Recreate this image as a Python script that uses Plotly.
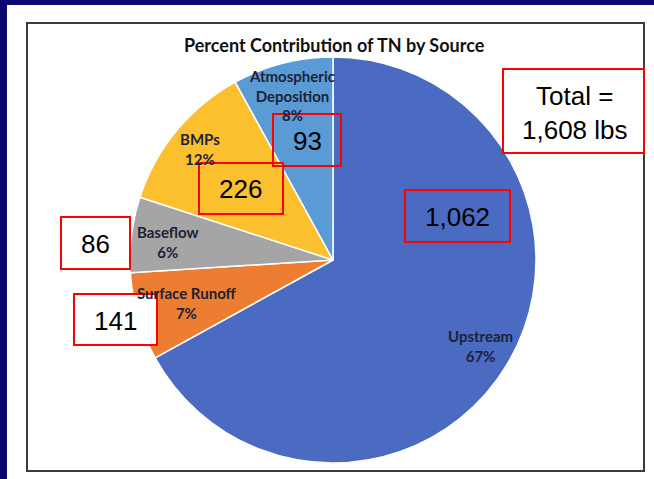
import plotly.graph_objects as go

W, H = 654, 479

# data
sources = ["Upstream", "Surface Runoff", "Baseflow", "BMPs", "Atmospheric<br>Deposition"]
percent = [67, 7, 6, 12, 8]
loads_lbs = [1062, 141, 86, 226, 93]
total_lbs = 1608
colors = ["#4A6BC1", "#ED7D31", "#A5A5A5", "#FBC02D", "#5B9BD5"]


def fx(x):
    return x / W


def fy(y):
    return 1 - y / H


def note(text, x, y, size, family="Lato", color="black"):
    return dict(text=text, x=fx(x), y=fy(y), xref="paper", yref="paper",
                xanchor="center", yanchor="middle", showarrow=False,
                font=dict(family=family, size=size, color=color))


fig = go.Figure()

# pie: centre (333, 260), radius ~203 px
cx, cy, r = 333, 260, 203
fig.add_trace(go.Pie(
    labels=sources,
    values=percent,
    sort=False,
    direction="clockwise",
    rotation=0,
    textinfo="none",
    hoverinfo="label+percent",
    marker=dict(colors=colors, line=dict(color="white", width=1.5)),
    domain=dict(x=[fx(cx - r), fx(cx + r)], y=[fy(cy + r), fy(cy - r)]),
    showlegend=False,
))

shapes = []
# navy slide background strips
shapes.append(dict(type="rect", xref="paper", yref="paper", x0=0, x1=fx(7), y0=0, y1=1,
                   fillcolor="#08086E", line=dict(width=0), layer="below"))
shapes.append(dict(type="rect", xref="paper", yref="paper", x0=0, x1=1, y0=fy(5), y1=1,
                   fillcolor="#08086E", line=dict(width=0), layer="below"))
# chart frame
shapes.append(dict(type="rect", xref="paper", yref="paper", x0=fx(27), x1=fx(644),
                   y0=fy(471), y1=fy(23), line=dict(color="#3C3C3C", width=2), layer="below"))

annotations = [note("<b>Percent Contribution of TN by Source</b>", 334, 45, 18, color="#111111")]

# slice labels (placed like the Excel data labels)
label_pos = [(480, 346), (187, 303), (168, 242), (200, 149), (292, 96)]
for name, p, (lx, ly) in zip(sources, percent, label_pos):
    annotations.append(note(f"<b>{name}<br>{p}%</b>", lx, ly, 15, color="#1C2238"))

# red call-out boxes with loads
box_pos = [(405, 190, 510, 242), (74, 294, 157, 345), (61, 217, 130, 269),
           (199, 163, 283, 214), (273, 114, 341, 166)]
box_fill = ["rgba(0,0,0,0)", "white", "white", "rgba(0,0,0,0)", "rgba(0,0,0,0)"]
for v, (x0, y0, x1, y1), fc in zip(loads_lbs, box_pos, box_fill):
    shapes.append(dict(type="rect", xref="paper", yref="paper", x0=fx(x0), x1=fx(x1),
                       y0=fy(y1), y1=fy(y0), fillcolor=fc, line=dict(color="#FF0000", width=2)))
    annotations.append(note(f"{v:,}", (x0 + x1) / 2, (y0 + y1) / 2 + 1, 26, family="Liberation Sans"))

shapes.append(dict(type="rect", xref="paper", yref="paper", x0=fx(503), x1=fx(644),
                   y0=fy(153), y1=fy(69), fillcolor="white", line=dict(color="#FF0000", width=2)))
annotations.append(note(f"Total =<br>{total_lbs:,} lbs", 575, 113, 26, family="Liberation Sans"))

fig.update_layout(
    width=W, height=H,
    margin=dict(l=0, r=0, t=0, b=0),
    paper_bgcolor="white",
    plot_bgcolor="white",
    shapes=shapes,
    annotations=annotations,
)

fig.write_html("out.html", config={"displayModeBar": False},
               post_script="document.body.style.margin='0';")
